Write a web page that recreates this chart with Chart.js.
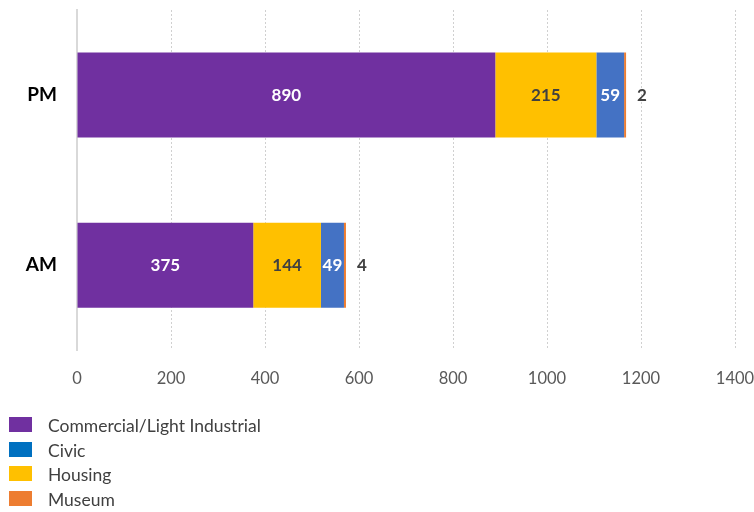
<!DOCTYPE html>
<html>
<head>
<meta charset="utf-8">
<script src="https://cdn.jsdelivr.net/npm/chart.js@4"></script>
<style>
  body { margin: 0; background: #fff; font-family: Lato, "Open Sans", sans-serif; }
  #wrap { position: relative; width: 754px; height: 512px; }
  #chart { position: absolute; left: 0; top: 0; }
  #legend { position: absolute; left: 9px; top: 417px; }
  .item { position: relative; height: 24.7px; }
  .sw { position: absolute; left: 0; top: 0; width: 23px; height: 15px; }
  .lb { position: absolute; left: 39px; top: -2px; font-size: 17.5px; color: #404040; white-space: nowrap; }
</style>
</head>
<body>
<div id="wrap">
  <canvas id="chart" width="754" height="422"></canvas>
  <div id="legend"></div>
</div>
<script>
const LABELS = ['PM', 'AM'];
const COMMERCIAL = [890, 375];
const HOUSING = [215, 144];
const CIVIC = [59, 49];
const MUSEUM = [2, 4];
const X_MAX = 1400;
const X_STEP = 200;

const colors = {
    commercial: '#7030A0',
    housing: '#FFC000',
    civic: '#4472C4',
    museum: '#ED7D31'
};

// value labels drawn on top of the bars
const valueLabels = {
    id: 'valueLabels',
    afterDatasetsDraw(chart) {
        const ctx = chart.ctx;
        ctx.save();
        ctx.font = 'bold 17px Lato, "Open Sans", sans-serif';
        ctx.textBaseline = 'middle';
        chart.data.datasets.forEach((ds, i) => {
            const meta = chart.getDatasetMeta(i);
            meta.data.forEach((bar, j) => {
                const v = ds.data[j];
                if (ds.label === 'Museum') {
                    ctx.textAlign = 'left';
                    ctx.fillStyle = '#404040';
                    ctx.fillText(v, bar.x + 11, bar.y);
                } else {
                    ctx.textAlign = 'center';
                    ctx.fillStyle = ds.label === 'Housing' ? '#404040' : '#ffffff';
                    ctx.fillText(v, (bar.x + bar.base) / 2, bar.y);
                }
            });
        });
        ctx.restore();
    }
};

const chart = new Chart(document.getElementById('chart').getContext('2d'), {
    type: 'bar',
    data: {
        labels: LABELS,
        datasets: [
            { label: 'Commercial/Light Industrial', data: COMMERCIAL, backgroundColor: colors.commercial },
            { label: 'Housing', data: HOUSING, backgroundColor: colors.housing },
            { label: 'Civic', data: CIVIC, backgroundColor: colors.civic },
            { label: 'Museum', data: MUSEUM, backgroundColor: colors.museum, minBarLength: 2 }
        ]
    },
    options: {
        indexAxis: 'y',
        responsive: false,
        animation: false,
        layout: { padding: { top: 10, right: 19, bottom: 14, left: 0 } },
        datasets: { bar: { categoryPercentage: 1, barPercentage: 0.5 } },
        plugins: {
            legend: { display: false },
            tooltip: { enabled: false }
        },
        scales: {
            x: {
                stacked: true,
                min: 0,
                max: X_MAX,
                afterFit: scale => {
                    scale.paddingLeft = 0;
                    scale.paddingRight = 0;
                },
                ticks: {
                    stepSize: X_STEP,
                    padding: 19,
                    color: '#595959',
                    font: { size: 16.5, family: 'Lato, "Open Sans", sans-serif' },
                    callback: v => String(v)
                },
                grid: {
                    drawTicks: false,
                    color: ctx => ctx.tick && ctx.tick.value === 0 ? 'rgba(0,0,0,0)' : '#d0d0d0',
                    lineWidth: 1
                },
                border: { display: false, dash: [2, 2] }
            },
            y: {
                stacked: true,
                afterFit: scale => {
                    scale.width = 77;
                    scale.paddingTop = 0;
                    scale.paddingBottom = 0;
                },
                ticks: {
                    padding: 20,
                    color: '#000',
                    font: { size: 19, weight: 'bold', family: 'Lato, "Open Sans", sans-serif' }
                },
                grid: { display: false, drawTicks: false },
                border: { display: true, color: '#d9d9d9', width: 2 }
            }
        }
    },
    plugins: [valueLabels]
});

// legend in the reference order
const LEGEND_ITEMS = ['Commercial/Light Industrial', 'Civic', 'Housing', 'Museum'];
const LEGEND_COLORS = ['#7030A0', '#0070C0', '#FFC000', '#ED7D31'];
const legend = document.getElementById('legend');
LEGEND_ITEMS.forEach((name, i) => {
    const row = document.createElement('div');
    row.className = 'item';
    row.innerHTML = '<div class="sw" style="background:' + LEGEND_COLORS[i] + '"></div><div class="lb">' + name + '</div>';
    legend.appendChild(row);
});
</script>
</body>
</html>
